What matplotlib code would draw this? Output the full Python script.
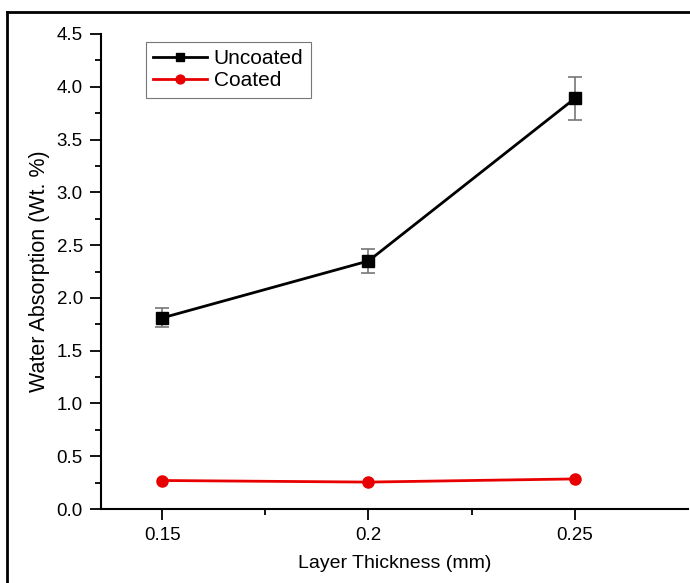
import matplotlib.pyplot as plt
from matplotlib.lines import Line2D

plt.rcParams['font.family'] = ['Liberation Sans', 'DejaVu Sans']

# =========================
# Data
# =========================
thickness = [0.15, 0.2, 0.25]
uncoated = [1.81, 2.35, 3.89]
uncoated_err = [0.09, 0.11, 0.20]
coated = [0.27, 0.255, 0.285]

x_ticks = [0.15, 0.2, 0.25]
x_tick_labels = ["0.15", "0.2", "0.25"]
y_ticks = [0.0, 0.5, 1.0, 1.5, 2.0, 2.5, 3.0, 3.5, 4.0, 4.5]

fig = plt.figure(figsize=(6.9, 5.83), dpi=100)
ax = fig.add_axes([101 / 690, 1 - 509 / 583, 587 / 690, 475 / 583])

ax.errorbar(thickness, uncoated, yerr=uncoated_err, fmt="none", ecolor="#777777",
            elinewidth=1.2, capsize=5, capthick=1.2, zorder=2)
line_u, = ax.plot(thickness, uncoated, color="black", marker="s", markersize=8,
                  linewidth=2.0, label="Uncoated", zorder=3)
line_c, = ax.plot(thickness, coated, color="#e80000", marker="o", markersize=8,
                  linewidth=2.0, label="Coated", zorder=3)

ax.set_xlim(0.1352, 0.2774)
ax.set_ylim(0.0, 4.5)
ax.set_xticks(x_ticks)
ax.set_xticklabels(x_tick_labels)
ax.set_xticks([0.175, 0.225], minor=True)
ax.set_yticks(y_ticks)
ax.set_yticks([0.25 + 0.5 * i for i in range(9)], minor=True)
ax.yaxis.set_major_formatter(plt.FormatStrFormatter("%.1f"))

for side in ("top", "right"):
    ax.spines[side].set_visible(False)
for side in ("left", "bottom"):
    ax.spines[side].set_linewidth(1.5)

ax.tick_params(axis="both", which="major", direction="out", length=8, width=1.3,
               labelsize=13.5, colors="black", pad=5)
ax.tick_params(axis="both", which="minor", direction="out", length=4, width=1.3)

ax.set_xlabel("Layer Thickness (mm)", fontsize=14, labelpad=8)
ax.set_ylabel("Water Absorption (Wt. %)", fontsize=15.5, labelpad=5)

leg = ax.legend(handles=[line_u, line_c], loc="upper left", bbox_to_anchor=(0.0767, 0.983),
                borderaxespad=0, fontsize=15, frameon=True, fancybox=False,
                edgecolor="#555555", handlelength=2.6, handletextpad=0.3,
                borderpad=0.35, labelspacing=0.15, markerscale=0.8)
leg.get_frame().set_linewidth(0.8)

# outer frame of the original image
fx = 7 / 690
fy = 1 - 12 / 583
fig.add_artist(Line2D([fx, fx], [0, fy], transform=fig.transFigure, color="black", linewidth=2))
fig.add_artist(Line2D([fx, 1], [fy, fy], transform=fig.transFigure, color="black", linewidth=2))

fig.savefig("out.png", dpi=100)
